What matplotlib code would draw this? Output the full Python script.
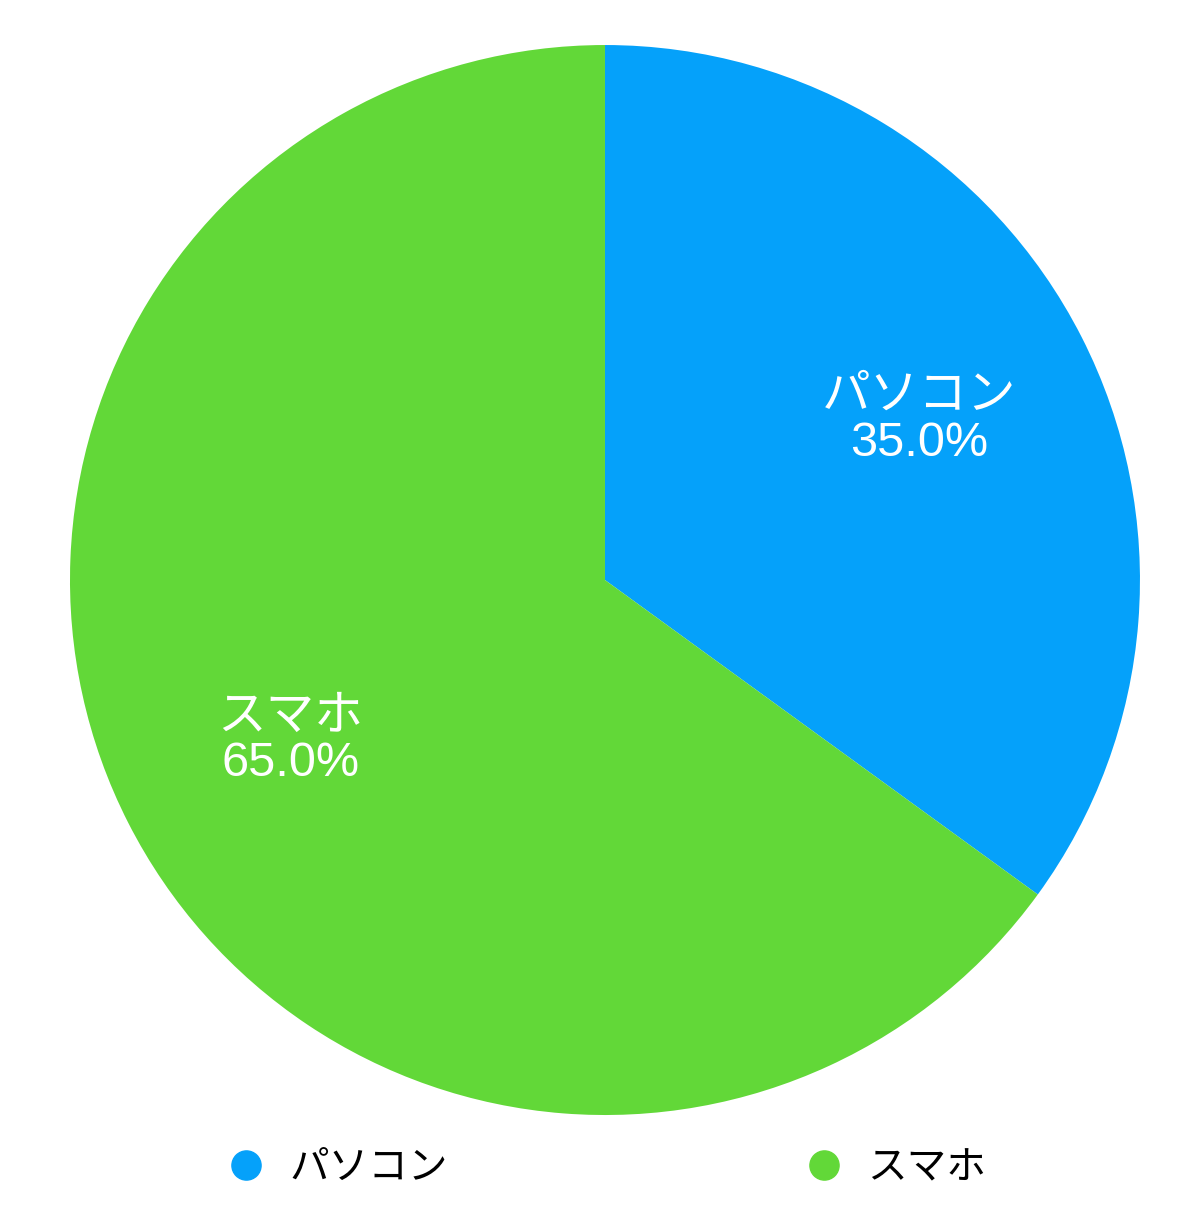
import matplotlib
matplotlib.use("Agg")
import matplotlib.pyplot as plt
from matplotlib.lines import Line2D

plt.rcParams['font.family'] = ['Liberation Sans', 'Noto Sans CJK JP', 'DejaVu Sans']

categories = ["パソコン", "スマホ"]
values = [35.0, 65.0]
colors = ["#05a1fa", "#62d838"]

fig = plt.figure(figsize=(12, 12.17), dpi=100)
ax = fig.add_axes([0.0583, 0.0838, 0.8917, 0.8792])

def make_label(idx_holder=[0]):
    def f(pct):
        i = idx_holder[0]
        idx_holder[0] += 1
        return f"{categories[i]}\n{pct:.1f}%"
    return f

wedges, texts, autotexts = ax.pie(
    values, colors=colors, startangle=90, counterclock=False,
    autopct=make_label(), pctdistance=0.66, radius=1.0,
    wedgeprops=dict(linewidth=0),
)
for t in autotexts:
    t.set_color("white")
    t.set_fontsize(35)
    t.set_linespacing(1.05)
    t.set_ha("center")
    t.set_va("center")
ax.set_xlim(-1, 1)
ax.set_ylim(-1, 1)
ax.set_aspect("equal")
ax.axis("off")

handles = [Line2D([], [], marker="o", linestyle="none", markersize=21,
                  markerfacecolor=c, markeredgecolor=c) for c in colors]
fig.legend(handles, categories, loc="center", bbox_to_anchor=(0.505, 1 - 1168 / 1217),
           ncol=2, frameon=False, fontsize=28.5, handletextpad=0.6,
           columnspacing=9.0, handlelength=1.0)

fig.savefig("out.png", dpi=100, facecolor="white")
